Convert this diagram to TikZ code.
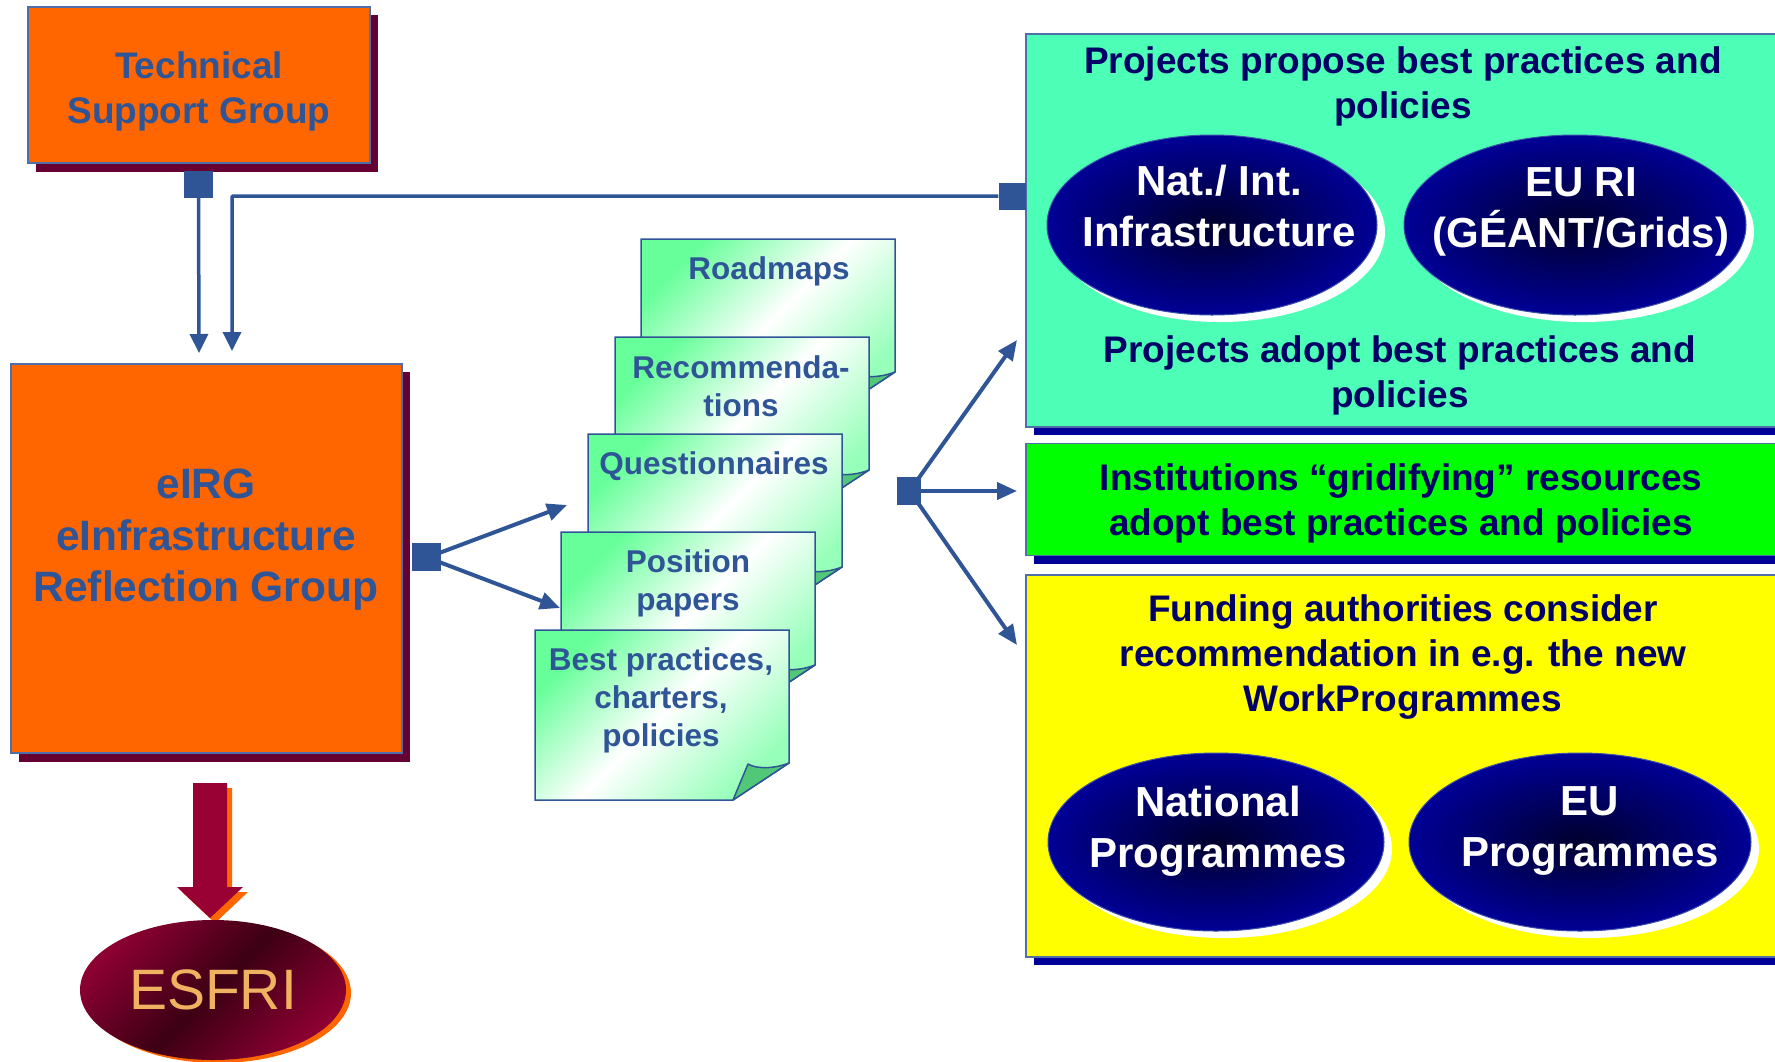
\documentclass[tikz,border=0pt]{standalone}
\usepackage{fontspec}
\setmainfont{Liberation Sans}
\usetikzlibrary{shapes.geometric,arrows.meta,calc}
\definecolor{conn}{RGB}{47,85,151}
\definecolor{orangebox}{RGB}{255,102,0}
\definecolor{maroonsh}{RGB}{102,0,51}
\definecolor{cyanbox}{RGB}{77,255,182}
\definecolor{greenbox}{RGB}{0,255,0}
\definecolor{yellowbox}{RGB}{255,255,0}
\definecolor{navysh}{RGB}{0,0,153}
\definecolor{navytext}{RGB}{0,0,102}
\definecolor{boxedge}{RGB}{80,110,170}
\definecolor{notegreen}{RGB}{102,255,153}
\definecolor{notelight}{RGB}{150,255,185}
\definecolor{flapgreen}{RGB}{80,200,120}
\definecolor{esfritext}{RGB}{240,178,96}
\definecolor{bigarrow}{RGB}{153,0,51}
\definecolor{ellin}{RGB}{0,0,45}
\definecolor{ellout}{RGB}{0,0,150}
\definecolor{elledge}{RGB}{60,80,170}
\definecolor{esfrired}{RGB}{140,0,50}
\definecolor{esfridark}{RGB}{60,0,20}
\newcommand{\docnote}[2]{%
  \path[draw=conn, line width=1.5pt, top color=notegreen, bottom color=notelight, middle color=white, shading angle=45]
    (#1,#2) -- ({#1+254},#2) -- ({#1+254},{#2+133}) -- ({#1+198},{#2+170}) -- (#1,{#2+170}) -- cycle;
  \path[fill=flapgreen, draw=conn, line width=1.5pt, line join=round]
    ({#1+198},{#2+170}) -- ({#1+213},{#2+134}) .. controls ({#1+221},{#2+139}) and ({#1+239},{#2+139}) .. ({#1+254},{#2+133}) -- cycle;
}
\begin{document}
\begin{tikzpicture}[x=1pt,y=-1pt,
  orangenode/.style={rectangle, draw=boxedge, line width=1.5pt, fill=orangebox, inner sep=0pt},
  conline/.style={draw=conn, line width=3.5pt, -{Triangle[length=19pt,width=18pt]}},
  fanline/.style={draw=conn, line width=4pt, -{Triangle[length=20pt,width=17pt]}},
  sqmark/.style={rectangle, fill=conn, draw=none, inner sep=0pt},
  ellnode/.style={ellipse, draw=elledge, line width=1pt, inner color=ellin, outer color=ellout, inner sep=0pt},
  ellshadow/.style={ellipse, fill=white, draw=none, inner sep=0pt},
  elltext/.style={text=white, font=\bfseries\fontsize{42}{51}\selectfont, align=center},
  righttext/.style={text=navytext, font=\bfseries\fontsize{37}{45}\selectfont, align=center},
  notetext/.style={text=conn, font=\bfseries\fontsize{31.5}{38}\selectfont, align=center},
  rbox/.style={rectangle, draw=boxedge, line width=1.5pt, inner sep=0pt}
]
\useasboundingbox (0,0) rectangle (1775,1061);
\clip (0,0) rectangle (1775,1061);

% ---------- right boxes ----------
\fill[navysh] (1034,42) rectangle (1790,435);
\node[rbox, fill=cyanbox, minimum width=756pt, minimum height=393pt] (projbox) at (1404,230.5) {};
\fill[navysh] (1034,453) rectangle (1790,564);
\node[rbox, fill=greenbox, minimum width=756pt, minimum height=112pt] (instbox) at (1404,499.5) {};
\fill[navysh] (1034,583) rectangle (1790,965);
\node[rbox, fill=yellowbox, minimum width=756pt, minimum height=382pt] (fundbox) at (1404,766) {};

\node[righttext] (projtop) at (1403,86) {Projects propose best practices and\\policies};
\node[righttext] (projbot) at (1400,375.5) {Projects adopt best practices and\\policies};
\node[righttext] (insttext) at (1401,503.5) {Institutions “gridifying” resources\\adopt best practices and policies};
\node[righttext] (fundtext) at (1403,657) {Funding authorities consider\\recommendation in e.g. the new\\WorkProgrammes};

% ellipses
\node[ellshadow, minimum width=330pt, minimum height=180pt] (e1s) at (1220,232) {};
\node[ellnode, minimum width=330pt, minimum height=180pt] (e1) at (1212,225) {};
\node[elltext] (e1t) at (1219,206) {Nat./ Int.\\Infrastructure};
\node[ellshadow, minimum width=342pt, minimum height=180pt] (e2s) at (1583,232) {};
\node[ellnode, minimum width=342pt, minimum height=180pt] (e2) at (1575,225) {};
\node[elltext] (e2t) at (1581,211.5) {EU RI\\(GÉANT/Grids)};
\node[ellshadow, minimum width=336pt, minimum height=178pt] (e3s) at (1224,849) {};
\node[ellnode, minimum width=336pt, minimum height=178pt] (e3) at (1216,842) {};
\node[elltext] (e3t) at (1218,831) {National\\Programmes};
\node[ellshadow, minimum width=342pt, minimum height=178pt] (e4s) at (1588,849) {};
\node[ellnode, minimum width=342pt, minimum height=178pt] (e4) at (1580,842) {};
\node[elltext] (e4t) at (1590,831) {EU\\Programmes};

% ---------- left boxes ----------
\fill[maroonsh] (36,15) rectangle (378,172);
\node[orangenode, minimum width=342pt, minimum height=156pt] (tsg) at (199,85) {};
\node[text=conn, font=\bfseries\fontsize{37}{45}\selectfont, align=center] (tsgt) at (199,91) {Technical\\Support Group};

\fill[maroonsh] (19,372) rectangle (410,762);
\node[orangenode, minimum width=391pt, minimum height=389pt] (eirg) at (206.5,558.5) {};
\node[text=conn, font=\bfseries\fontsize{42.5}{51.5}\selectfont, align=center] (eirgt) at (206,540) {eIRG\\eInfrastructure\\Reflection Group};

% big arrow to ESFRI
\fill[orangebox] (198,788) -- (232,788) -- (232,892) -- (248,892) -- (215,923) -- (182,892) -- (198,892) -- cycle;
\fill[bigarrow] (193,783) -- (227,783) -- (227,887) -- (243,887) -- (210,918) -- (177,887) -- (193,887) -- cycle;

% ESFRI
\node[ellipse, fill=orangebox, minimum width=266pt, minimum height=140pt, inner sep=0pt] (esfris) at (218,993) {};
\node[ellipse, inner sep=0pt, minimum width=266pt, minimum height=140pt, top color=esfrired, bottom color=esfrired, middle color=esfridark, shading angle=45, text=esfritext, font=\fontsize{57}{60}\selectfont] (esfri) at (213,990) {ESFRI};

% ---------- document notes ----------
\docnote{641}{239}
\node[notetext] (doc1) at (769,271) {Roadmaps};
\docnote{615}{337}
\node[notetext] (doc2) at (741,386) {Recommenda-\\tions};
\docnote{588}{434}
\node[notetext] (doc3) at (714,466) {Questionnaires};
\docnote{561}{532}
\node[notetext] (doc4) at (688,583) {Position\\papers};
\docnote{535}{630}
\node[notetext] (doc5) at (661,700) {Best practices,\\charters,\\policies};

% ---------- connectors ----------
\node[sqmark, minimum width=29pt, minimum height=27pt] (sqt) at (198.5,184.5) {};
\coordinate (tipA) at (199,353);
\draw[conline] (sqt.south) -- (tipA);

\node[sqmark, minimum width=27pt, minimum height=27pt] (sqr) at (1012,196) {};
\coordinate (tipB) at (232,351);
\draw[conline, rounded corners=1pt] (sqr.west) -| (tipB);

\node[sqmark, minimum width=29pt, minimum height=28pt] (sqe) at (426.5,557) {};
\coordinate (tipC) at (567,505);
\coordinate (tipD) at (560,608);
\draw[fanline] ($(sqe.east)+(-2,-4)$) -- (tipC);
\draw[fanline] ($(sqe.east)+(-2,5)$) -- (tipD);

\node[sqmark, minimum width=24pt, minimum height=28pt] (sqd) at (909,491) {};
\coordinate (tipE) at (1017,340);
\coordinate (tipF) at (1017,491);
\coordinate (tipG) at (1017,645);
\draw[fanline] ($(sqd.north east)+(-3,2)$) -- (tipE);
\draw[fanline] (sqd.east) -- (tipF);
\draw[fanline] ($(sqd.south east)+(-3,-2)$) -- (tipG);
\end{tikzpicture}
\end{document}
